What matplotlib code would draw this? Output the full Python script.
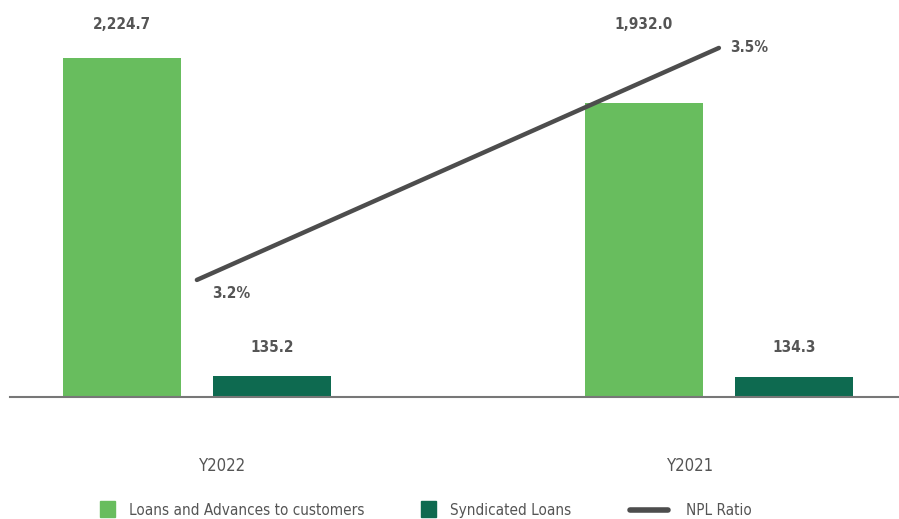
import numpy as np
import matplotlib.pyplot as plt
import matplotlib.patches as mpatches
from matplotlib.lines import Line2D

plt.rcParams['font.family'] = ['DejaVu Sans']
plt.rcParams['font.stretch'] = 'condensed'

years = ['Y2022', 'Y2021']
loans = [2224.7, 1932.0]
syndicated = [135.2, 134.3]
npl = [3.2, 3.5]
loan_labels = ['2,224.7', '1,932.0']
synd_labels = ['135.2', '134.3']
npl_labels = ['3.2%', '3.5%']

light = '#68bd5e'
dark = '#0e6a50'
txt = '#555555'

fig = plt.figure(figsize=(8.99, 5.19), dpi=100)
ax = fig.add_axes([10/899, 1 - 397/519, 889/899, 397/519])

x = np.arange(len(years))
w = 0.226
ax.bar(x - 0.1437, loans, w, color=light)
ax.bar(x + 0.1437, syndicated, w, color=dark)

ax.set_xlim(-0.358, 1.345)
ax.set_ylim(0, 2605)
for s in ['top', 'right', 'left']:
    ax.spines[s].set_visible(False)
ax.spines['bottom'].set_color('#777777')
ax.spines['bottom'].set_linewidth(1.5)
ax.set_yticks([])
ax.set_xticks(x + np.array([0.05, -0.055]))
ax.set_xticklabels(years, fontsize=12, color=txt)
ax.tick_params(axis='x', length=0, pad=43)

# value labels
for i in range(len(years)):
    ax.text(x[i] - 0.1437, 2447, loan_labels[i], ha='center', va='center',
            fontsize=11, fontweight='bold', color=txt)
    ax.text(x[i] + 0.1437, 328, synd_labels[i], ha='center', va='center',
            fontsize=11, fontweight='bold', color=txt)

ax2 = ax.twinx()
ax2.set_ylim(3.0486, 3.562)
ax2.plot(x, npl, color='#4d4d4d', lw=3.2, solid_capstyle='round')
ax2.axis('off')
ax2.annotate(npl_labels[0], (x[0], npl[0]), xytext=(25, -10), textcoords='offset points',
             ha='center', va='center', fontsize=11, fontweight='bold', color=txt)
ax2.annotate(npl_labels[1], (x[1], npl[1]), xytext=(22, 0), textcoords='offset points',
             ha='center', va='center', fontsize=11, fontweight='bold', color=txt)

# legend drawn by hand
ly = 1 - 515/519
fig.add_artist(mpatches.Rectangle((100/899, 1 - 517/519), 15/899, 16/519, color=light, transform=fig.transFigure))
fig.text(129/899, ly, 'Loans and Advances to customers', fontsize=11, color=txt, va='baseline')
fig.add_artist(mpatches.Rectangle((421/899, 1 - 517/519), 15/899, 16/519, color=dark, transform=fig.transFigure))
fig.text(450/899, ly, 'Syndicated Loans', fontsize=11, color=txt, va='baseline')
fig.add_artist(Line2D([630/899, 668/899], [1 - 510/519] * 2, color='#4d4d4d', lw=4, solid_capstyle='round', transform=fig.transFigure))
fig.text(686/899, ly, 'NPL Ratio', fontsize=11, color=txt, va='baseline')

fig.savefig('out.png', dpi=100)
